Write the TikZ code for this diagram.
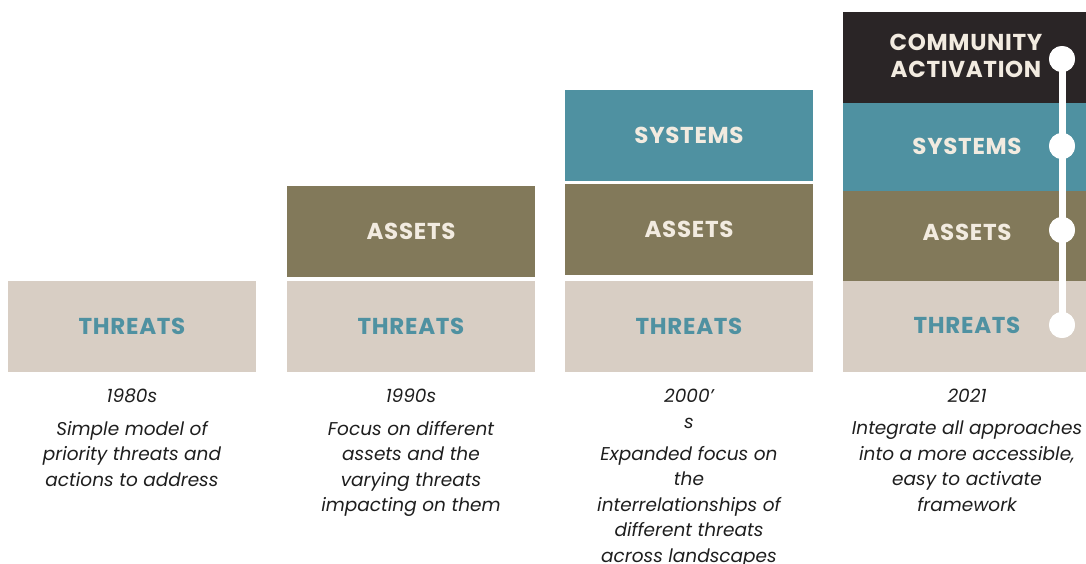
\documentclass[tikz,border=0pt]{standalone}
\usepackage{fontspec}
\setmainfont{Poppins}
\newfontfamily\labfont[LetterSpace=3]{Poppins}
\definecolor{teal}{HTML}{4F91A1}
\definecolor{olive}{HTML}{82795A}
\definecolor{beige}{HTML}{D8CEC4}
\definecolor{darkbox}{HTML}{2A2526}
\definecolor{cream}{HTML}{F2EBE0}
\definecolor{capt}{HTML}{1E1E1E}
\tikzset{
  labtext/.style={inner sep=0pt, font=\labfont\bfseries\fontsize{23}{27}\selectfont},
  box/.style={labtext, draw=none, minimum width=248pt, minimum height=91pt},
  threatbox/.style={box, fill=beige, text=teal},
  assetbox/.style={box, fill=olive, text=cream},
  sysbox/.style={box, fill=teal, text=cream},
  commbox/.style={box, fill=darkbox, text=cream},
  caption/.style={anchor=north, align=center, text=capt, font=\itshape\fontsize{18.5}{25.5}\selectfont, inner sep=0pt},
  dot/.style={circle, fill=white, minimum size=26pt, inner sep=0pt},
  link/.style={white, line width=7pt}
}
\begin{document}
\begin{tikzpicture}[x=1pt,y=-1pt]
\useasboundingbox (0,0) rectangle (1086,563);
% column 1
\node[threatbox] (t1) at (132,326.5) {THREATS};
% column 2
\node[assetbox] (a2) at (411,231.5) {ASSETS};
\node[threatbox] (t2) at (411,326.5) {THREATS};
% column 3
\node[sysbox] (s3) at (689,135.5) {SYSTEMS};
\node[assetbox] (a3) at (689,229.5) {ASSETS};
\node[threatbox] (t3) at (689,326.5) {THREATS};
% column 4
\node[commbox, minimum width=243pt, minimum height=91pt] (c4) at (964.5,57.5) {};
\node[sysbox, minimum width=243pt, minimum height=88pt] (s4) at (964.5,147) {};
\node[assetbox, minimum width=243pt, minimum height=90pt] (a4) at (964.5,236) {};
\node[threatbox, minimum width=243pt, minimum height=91pt] (t4) at (964.5,326.5) {};
\node[labtext, text=cream, align=center] (lc4) at (966,56) {COMMUNITY\\ACTIVATION};
\node[labtext, text=cream] (ls4) at (967,146) {SYSTEMS};
\node[labtext, text=cream] (la4) at (967,232) {ASSETS};
\node[labtext, text=teal] (lt4) at (967,325) {THREATS};
% timeline
\node[dot] (d1) at (1062,59) {};
\node[dot] (d2) at (1062,146) {};
\node[dot] (d3) at (1062,230) {};
\node[dot] (d4) at (1062,325) {};
\draw[link] (d1.center) -- (d4.center);
\node[dot] at (d1) {};
\node[dot] at (d2) {};
\node[dot] at (d3) {};
\node[dot] at (d4) {};
% captions
\node[caption] (y1) at (132,389) {1980s};
\node[caption] (k1) at (132,421) {Simple model of\\priority threats and\\actions to address};
\node[caption] (y2) at (411,389) {1990s};
\node[caption] (k2) at (411,421) {Focus on different\\assets and the\\varying threats\\impacting on them};
\node[caption] (y3) at (689,389) {2000’\\s};
\node[caption] (k3) at (689,446) {Expanded focus on\\the\\interrelationships of\\different threats\\across landscapes};
\node[caption] (y4) at (967,389) {2021};
\node[caption] (k4) at (967,421) {Integrate all approaches\\into a more accessible,\\easy to activate\\framework};
\end{tikzpicture}
\end{document}
